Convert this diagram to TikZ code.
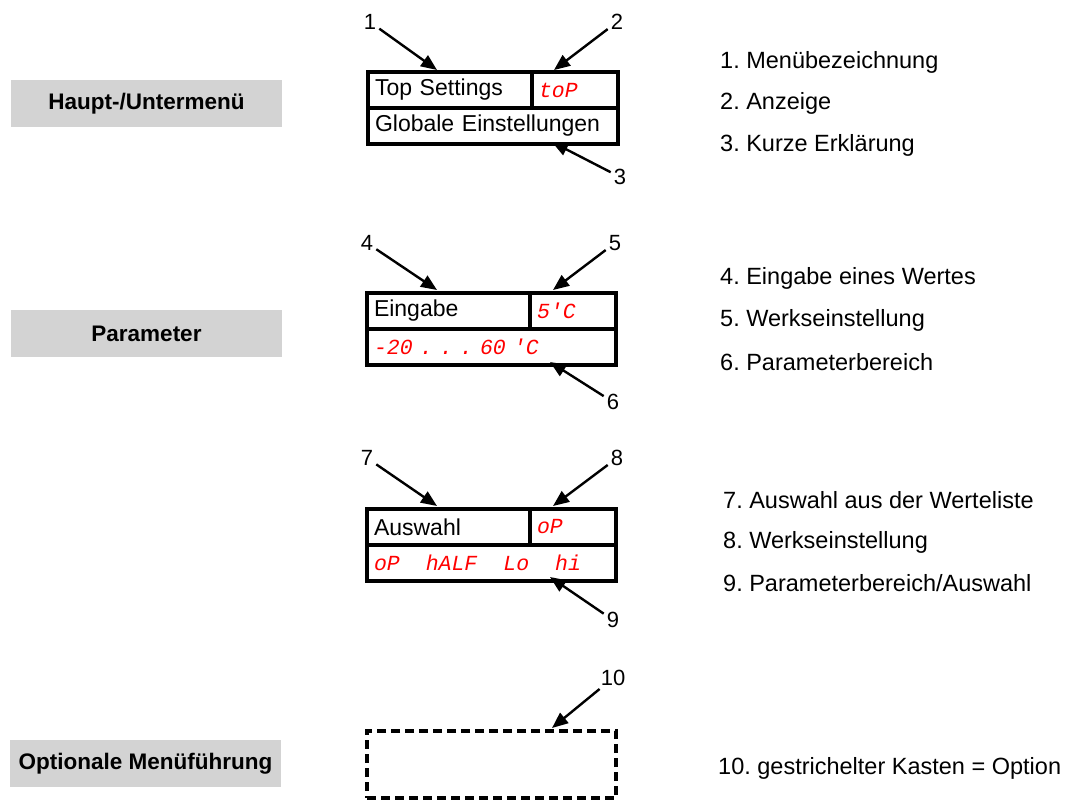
\documentclass[tikz,border=0pt]{standalone}
\usepackage{fontspec}
\setmainfont{Liberation Sans}
\newfontfamily\segfont{Liberation Mono}
\usetikzlibrary{arrows.meta}
\definecolor{menugray}{RGB}{211,211,211}
\definecolor{ledred}{RGB}{255,0,0}
\frenchspacing

\begin{document}
\begin{tikzpicture}[x=1pt,y=-1pt]
    \useasboundingbox (0,0) rectangle (1071,803);

    % Node styles
    \tikzstyle{menu_style} = [rectangle, fill=menugray, minimum width=271pt, minimum height=47pt, font=\fontsize{22.5}{26}\selectfont\bfseries]
    \tikzstyle{cell_style} = [rectangle, draw, line width=3.2pt, outer sep=0pt, anchor=north west, inner xsep=7pt, align=left, minimum height=36pt, font=\fontsize{23}{27}\selectfont]
    \tikzstyle{led_style} = [text=ledred, font=\segfont\fontsize{21.5}{25}\selectfont\itshape]
    \tikzstyle{num_style} = [inner sep=3pt, font=\fontsize{22}{26}\selectfont]
    \tikzstyle{desc_style} = [anchor=west, inner sep=0pt, font=\fontsize{23.5}{28}\selectfont]
    \tikzstyle{arrow_style} = [-{Triangle[length=16pt,width=13pt]}, line width=2.4pt]

    % Menu levels
    \node[menu_style] (m1) at (146.5,103.5) {Haupt-/Untermenü};
    \node[menu_style] (m2) at (146.5,333.5) {Parameter};
    \node[menu_style] (m3) at (145.5,763.5) {Optionale Menüführung};

    % Box 1
    \node[cell_style, text width=150pt] (c1) at (368,72) {Top Settings};
    \node[cell_style, led_style, text width=72pt] (v1) at (c1.north east) {toP};
    \node[cell_style, text width=236pt] (e1) at (c1.south west) {Globale Einstellungen};

    % Box 2
    \node[cell_style, text width=149pt] (c2) at (367,293) {Eingabe};
    \node[cell_style, led_style, text width=72pt] (v2) at (c2.north east) {5'C};
    \node[cell_style, led_style, text width=235pt] (e2) at (c2.south west) {-20 . . . 60 'C};

    % Box 3
    \node[cell_style, text width=149pt] (c3) at (367,509) {Auswahl};
    \node[cell_style, led_style, text width=72pt] (v3) at (c3.north east) {oP};
    \node[cell_style, led_style, text width=235pt] (e3) at (c3.south west) {oP\hspace{26pt}hALF\hspace{26pt}Lo\hspace{26pt}hi};

    % Optional box
    \node[rectangle, draw, dash pattern=on 9pt off 5pt, line width=3.2pt, outer sep=0pt, anchor=north west, minimum width=249pt, minimum height=67pt] (opt) at (367,731) {};

    % Numbers
    \node[num_style] (n1) at (370,22) {1};
    \node[num_style] (n2) at (617,22) {2};
    \node[num_style] (n3) at (620,177) {3};
    \node[num_style] (n4) at (367,243) {4};
    \node[num_style] (n5) at (615,243) {5};
    \node[num_style] (n6) at (613,402) {6};
    \node[num_style] (n7) at (367,458) {7};
    \node[num_style] (n8) at (617,458) {8};
    \node[num_style] (n9) at (613,620) {9};
    \node[num_style] (n10) at (613,678) {10};

    % Arrow targets
    \coordinate (t1) at (437,70);
    \coordinate (t2) at (554,70);
    \coordinate (t3) at (552,142);
    \coordinate (t4) at (437,290);
    \coordinate (t5) at (553,290);
    \coordinate (t6) at (550,362);
    \coordinate (t7) at (437,506);
    \coordinate (t8) at (553,506);
    \coordinate (t9) at (550,577);
    \coordinate (t10) at (552,728);

    % Arrows
    \draw[arrow_style] (n1) -- (t1);
    \draw[arrow_style] (n2) -- (t2);
    \draw[arrow_style] (n3) -- (t3);
    \draw[arrow_style] (n4) -- (t4);
    \draw[arrow_style] (n5) -- (t5);
    \draw[arrow_style] (n6) -- (t6);
    \draw[arrow_style] (n7) -- (t7);
    \draw[arrow_style] (n8) -- (t8);
    \draw[arrow_style] (n9) -- (t9);
    \draw[arrow_style] (n10) -- (t10);

    % Descriptions
    \node[desc_style] (d1) at (720,62) {1. Menübezeichnung};
    \node[desc_style] (d2) at (720,103) {2. Anzeige};
    \node[desc_style] (d3) at (720,145) {3. Kurze Erklärung};
    \node[desc_style] (d4) at (720,278) {4. Eingabe eines Wertes};
    \node[desc_style] (d5) at (720,320) {5. Werkseinstellung};
    \node[desc_style] (d6) at (720,362) {6. Parameterbereich};
    \node[desc_style] (d7) at (723,500) {7. Auswahl aus der Werteliste};
    \node[desc_style] (d8) at (723,542) {8. Werkseinstellung};
    \node[desc_style] (d9) at (723,583) {9. Parameterbereich/Auswahl};
    \node[desc_style] (d10) at (718,768) {10. gestrichelter Kasten = Option};
\end{tikzpicture}
\end{document}
